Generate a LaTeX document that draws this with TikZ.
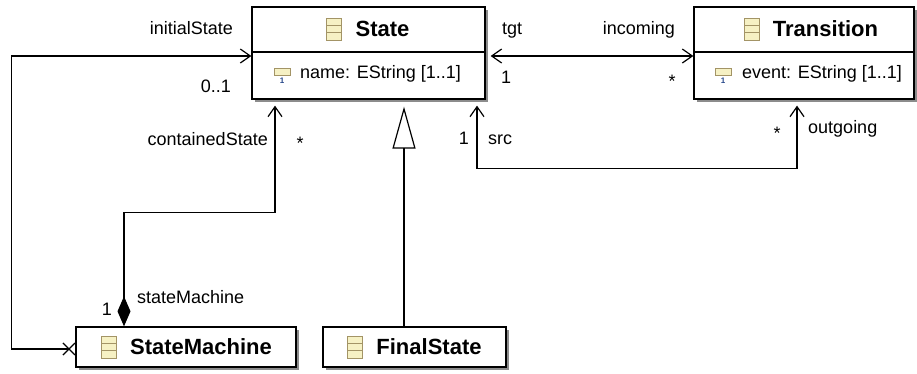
\documentclass[tikz,border=0pt]{standalone}
\usepackage{fontspec}
\setmainfont{Liberation Sans}
\usetikzlibrary{arrows.meta}
\usetikzlibrary{shadows}
\usetikzlibrary{positioning}

\definecolor{iconfill}{HTML}{F6F1C4}
\definecolor{iconline}{HTML}{A39466}
\definecolor{iconblue}{HTML}{26478A}

\tikzset{
	umlbox/.style={draw, line width=1.3pt, fill=white, inner sep=0pt,
		drop shadow={shadow xshift=3pt, shadow yshift=-3pt, fill=black!45, opacity=1}},
	title/.style={font=\fontsize{22}{26}\selectfont\bfseries, inner sep=0pt},
	lbl/.style={font=\fontsize{18}{21}\selectfont, inner sep=0pt},
	conn/.style={line width=1.2pt},
	nav/.tip={Straight Barb[length=10pt, width=14pt]},
	xcross/.tip={Rays[n=4, length=17pt, width=17pt]},
	classicon/.pic={
		\draw[iconline, fill=iconfill, line width=0.9pt] (-7.5,-11) rectangle (7.5,11);
		\draw[iconline, line width=0.9pt] (-7.5,-3.7) -- (7.5,-3.7) (-7.5,3.7) -- (7.5,3.7);
	},
	attricon/.pic={
		\draw[iconline, fill=iconfill, line width=0.9pt] (-8,-4) rectangle (8,3);
		\node[text=iconblue, font=\fontsize{8}{8}\selectfont\bfseries, inner sep=0pt] (one) at (0,9) {1};
	}
}

\begin{document}
\begin{tikzpicture}[x=1pt, y=-1pt]
	\useasboundingbox (0,0) rectangle (917,373);

	% classes
	\node[umlbox, minimum width=233pt, minimum height=92pt] (state) at (368.5,53) {};
	\node[umlbox, minimum width=220pt, minimum height=92pt] (trans) at (804,53) {};
	\node[umlbox, minimum width=220pt, minimum height=40pt] (sm) at (186,347) {};
	\node[umlbox, minimum width=183pt, minimum height=40pt] (fin) at (414.5,347) {};

	\draw[line width=1.3pt] ([yshift=1pt]state.west) -- ([yshift=1pt]state.east);
	\draw[line width=1.3pt] ([yshift=1pt]trans.west) -- ([yshift=1pt]trans.east);

	% titles
	\node[title] (stateT) at (382.5,29) {State};
	\node[title] (transT) at (825.5,29) {Transition};
	\node[title] (smT) at (201,347) {StateMachine};
	\node[title] (finT) at (429,347) {FinalState};
	\pic at ([xshift=-21pt]stateT.west) {classicon};
	\pic at ([xshift=-21pt]transT.west) {classicon};
	\pic at ([xshift=-21pt]smT.west) {classicon};
	\pic at ([xshift=-21pt]finT.west) {classicon};

	% attributes
	\pic at (282,72) {attricon};
	\node[lbl, anchor=mid west] (nameA) at (300,76) {name: EString [1..1]};
	\pic at (723,72) {attricon};
	\node[lbl, anchor=mid west] (eventA) at (742,76) {event: EString [1..1]};

	% references
	\draw[conn, xcross-nav] ([yshift=-2pt]sm.west) -- ++(-64,0) |- ([yshift=-3pt]state.west);
	\draw[conn, {Diamond[length=30pt, width=13pt]}-nav, shorten >=6pt] ([xshift=-62pt]sm.north) -- ++(0,-114) -| ([xshift=-93.5pt]state.south);
	\draw[conn, -{Triangle[open, length=42pt, width=23pt]}, shorten >=7pt] ([xshift=-10.5pt]fin.north) -- ([xshift=35.5pt]state.south);
	\draw[conn, nav-nav, shorten <=5pt] ([yshift=-3pt]state.east) -- ([yshift=-3pt]trans.west);
	\draw[conn, nav-nav, shorten <=6pt, shorten >=6pt] ([xshift=108.5pt]state.south) -- ++(0,69) -| ([xshift=-7pt]trans.south);

	% role names and bounds
	\node[lbl, anchor=mid east] (initL) at (233,32) {initialState};
	\node[lbl, anchor=mid east] (initM) at (231,90) {0..1};
	\node[lbl, anchor=mid west] (tgtL) at (502,32) {tgt};
	\node[lbl, anchor=mid west] (tgtM) at (501,81) {1};
	\node[lbl, anchor=mid east] (inL) at (675,32) {incoming};
	\node[lbl] (inM) at (672,81) {*};
	\node[lbl, anchor=mid east] (contL) at (268,143) {containedState};
	\node[lbl] (contM) at (300,143) {*};
	\node[lbl, anchor=mid east] (srcM) at (469,142) {1};
	\node[lbl, anchor=mid west] (srcL) at (488,142) {src};
	\node[lbl] (outM) at (777,133) {*};
	\node[lbl, anchor=mid west] (outL) at (808,131) {outgoing};
	\node[lbl, anchor=mid west] (smL) at (137,301) {stateMachine};
	\node[lbl, anchor=mid east] (smM) at (112,313) {1};
\end{tikzpicture}
\end{document}
